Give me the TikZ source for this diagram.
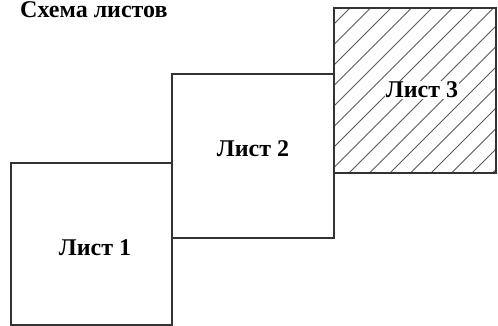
\documentclass[tikz,border=0pt]{standalone}
\usepackage{fontspec}
\setmainfont{Liberation Serif}
\begin{document}
\begin{tikzpicture}[x=1pt,y=-1pt]
     \tikzstyle{sheet}=[draw=black!80, line width=1.4pt, minimum width=162pt, minimum height=163pt, inner sep=0pt, outer sep=0pt]
     \tikzstyle{label}=[anchor=base, inner sep=1pt, font=\fontsize{24}{28}\selectfont\bfseries]
     \tikzstyle{hatch}=[draw=black!65, line width=0.8pt]
     \useasboundingbox (0,0) rectangle (498,326);
     \node[anchor=base west, font=\fontsize{24}{28}\selectfont\bfseries, inner sep=0pt] (title) at (20,18) {Схема листов};
     \node[sheet, minimum width=161pt, minimum height=162pt] (s1) at (91.5,244) {};
     \node[sheet, anchor=south west, minimum height=164pt] (s2) at ([yshift=-75pt]s1.north east) {};
     \node[sheet, anchor=south west, minimum height=165pt] (s3) at ([yshift=-99pt]s2.north east) {};
     \begin{scope}
     \clip (s3.south west) rectangle (s3.north east);
     \foreach \dx in {-190,-169.5,...,170}
     \draw[hatch] ([xshift=\dx pt]s3.south west) -- ++(200pt,200pt);
     \end{scope}
     \draw[draw=black!80, line width=1.4pt] (s3.south west) rectangle (s3.north east);
     \node[label] (l1) at ([xshift=3.5pt,yshift=-11pt]s1.center) {Лист 1};
     \node[label] (l2) at ([yshift=-1pt]s2.center) {Лист 2};
     \node[label, fill=white] (l3) at ([xshift=7pt,yshift=-7.5pt]s3.center) {Лист 3};
\end{tikzpicture}
\end{document}
